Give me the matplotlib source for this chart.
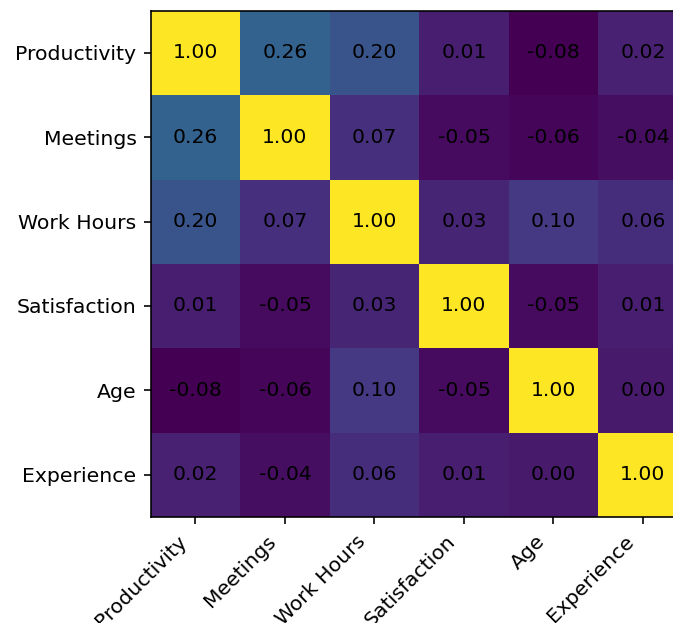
import matplotlib
matplotlib.use("Agg")
import matplotlib.pyplot as plt
import matplotlib.transforms as mtransforms
import numpy as np

labels = ["Productivity", "Meetings", "Work Hours", "Satisfaction", "Age", "Experience"]
row_productivity = [1.00, 0.26, 0.20, 0.01, -0.08, 0.02]
row_meetings = [0.26, 1.00, 0.07, -0.05, -0.06, -0.04]
row_work_hours = [0.20, 0.07, 1.00, 0.03, 0.10, 0.06]
row_satisfaction = [0.01, -0.05, 0.03, 1.00, -0.05, 0.01]
row_age = [-0.08, -0.06, 0.10, -0.05, 1.00, 0.00]
row_experience = [0.02, -0.04, 0.06, 0.01, 0.00, 1.00]

corr = np.array([row_productivity, row_meetings, row_work_hours,
                 row_satisfaction, row_age, row_experience])

s = 1.05
plt.rcParams.update({
    "font.size": 10 * s,
    "xtick.major.size": 3.5 * s, "ytick.major.size": 3.5 * s,
    "xtick.major.pad": 3.5 * s, "ytick.major.pad": 3.5 * s,
    "xtick.major.width": 0.8 * s, "ytick.major.width": 0.8 * s,
    "axes.linewidth": 0.8 * s,
})

fig = plt.figure(figsize=(673 / 140, 623 / 140), dpi=140)
ax = fig.add_axes([150.7 / 673, (623 - 516.7) / 623, 537 / 673, 506 / 623])
ax.imshow(corr, cmap="viridis", aspect="auto")
ax.set_xticks(range(len(labels)))
ax.set_yticks(range(len(labels)))
ax.set_xticklabels(labels, rotation=45, ha="right")
ax.set_yticklabels(labels)
offset = mtransforms.ScaledTranslation(-5 / 140, -1 / 140, fig.dpi_scale_trans)
for lbl in ax.get_xticklabels():
    lbl.set_transform(lbl.get_transform() + offset)
for i in range(corr.shape[0]):
    for j in range(corr.shape[1]):
        ax.text(j, i, f"{corr[i, j]:.2f}", ha="center", va="center", color="black")

fig.savefig("out.png", dpi=140)
